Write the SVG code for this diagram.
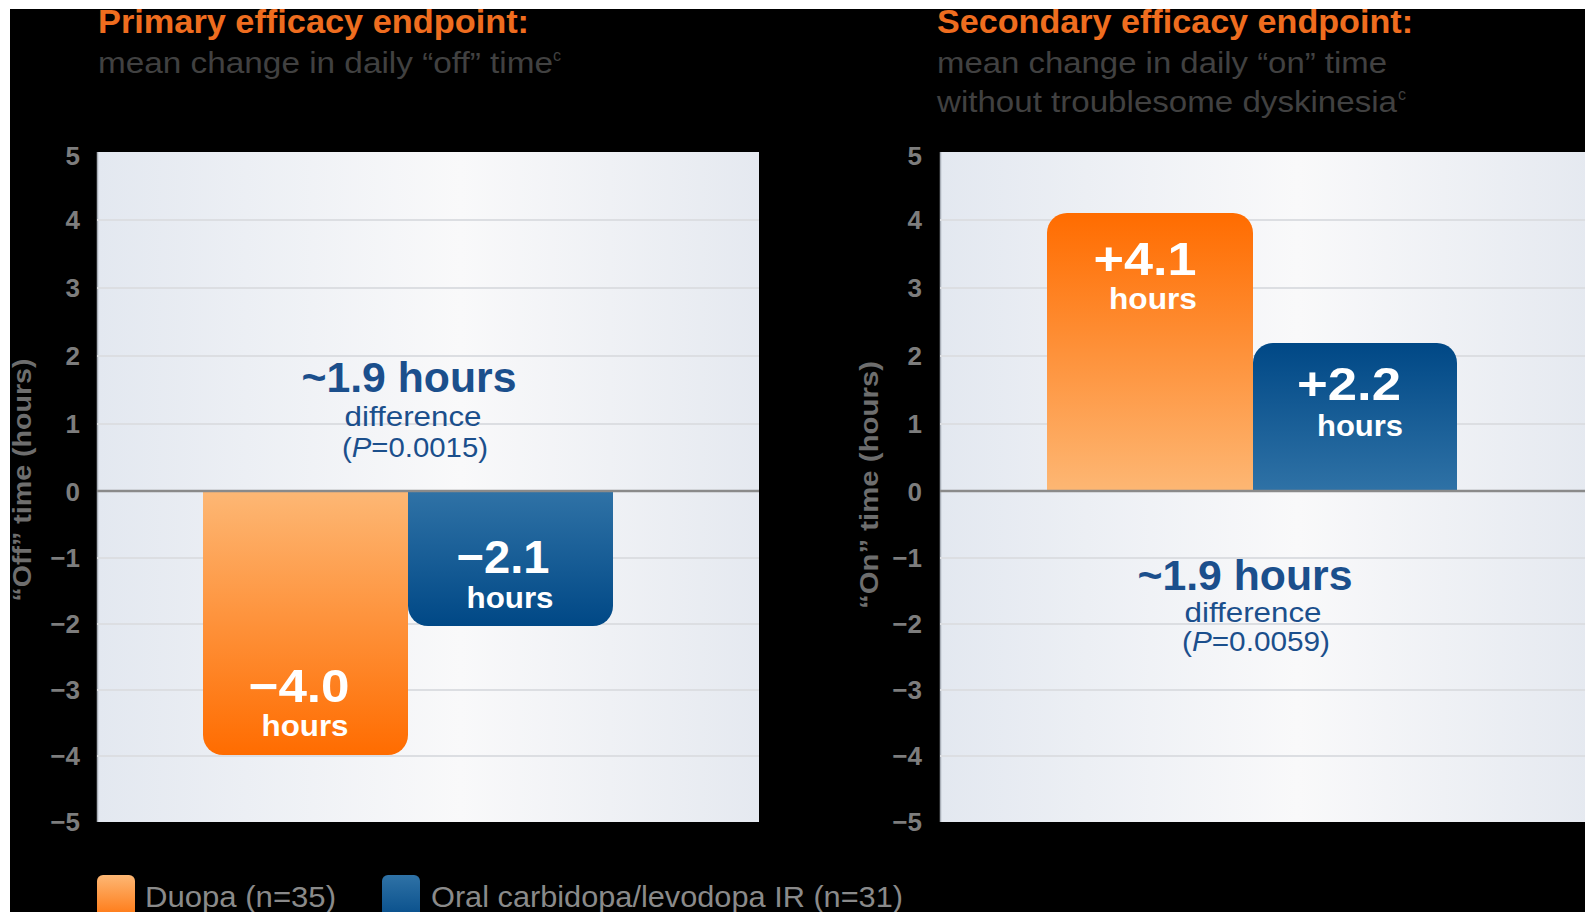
<svg xmlns="http://www.w3.org/2000/svg" width="1585" height="912" viewBox="0 0 1585 912">
<defs>
<linearGradient id="plotBg" x1="0" y1="0" x2="1" y2="0">
<stop offset="0" stop-color="#e3e8f0"/>
<stop offset="0.55" stop-color="#f9f9fa"/>
<stop offset="1" stop-color="#e5e9f0"/>
</linearGradient>
<linearGradient id="orangeDown" x1="0" y1="0" x2="0" y2="1">
<stop offset="0" stop-color="#fdb774"/>
<stop offset="1" stop-color="#ff6c00"/>
</linearGradient>
<linearGradient id="orangeUp" x1="0" y1="1" x2="0" y2="0">
<stop offset="0" stop-color="#fdb774"/>
<stop offset="1" stop-color="#ff6c00"/>
</linearGradient>
<linearGradient id="blueDown" x1="0" y1="0" x2="0" y2="1">
<stop offset="0" stop-color="#2f72a6"/>
<stop offset="1" stop-color="#004886"/>
</linearGradient>
<linearGradient id="blueUp" x1="0" y1="1" x2="0" y2="0">
<stop offset="0" stop-color="#2f72a6"/>
<stop offset="1" stop-color="#004886"/>
</linearGradient>
</defs>
<style>
text{font-family:"Liberation Sans",Arial,sans-serif;}
.title{font-size:33px;font-weight:bold;fill:#ef6d1f;}
.sub{font-size:30px;fill:#414141;}
.sup{font-size:16px;fill:#414141;}
.tick{font-size:26px;font-weight:bold;fill:#7d7d7d;text-anchor:end;}
.ytitle{font-size:26px;font-weight:bold;fill:#6e6e6e;text-anchor:middle;}
.grid{stroke:#dcdee2;stroke-width:2;}
.zero{stroke:#8a8a8a;stroke-width:2.5;}
.big{font-size:46px;font-weight:bold;fill:#ffffff;text-anchor:middle;}
.hrs{font-size:30px;font-weight:bold;fill:#ffffff;text-anchor:middle;}
.diff{font-size:43px;font-weight:bold;fill:#1b4f8c;text-anchor:middle;}
.diffs{font-size:28px;fill:#1b4f8c;text-anchor:middle;}
.leg{font-size:29px;fill:#8a8a8a;}
</style>
<rect x="0" y="0" width="1585" height="912" fill="#ffffff"/>
<rect x="10" y="9" width="1575" height="903" fill="#000000"/>

<g id="header-primary">
<text class="title" x="98" y="33" textLength="431" lengthAdjust="spacingAndGlyphs">Primary efficacy endpoint:</text>
<text class="sub" x="98" y="73" textLength="455" lengthAdjust="spacingAndGlyphs">mean change in daily “off” time</text>
<text class="sup" x="553" y="61">c</text>
</g>
<g id="header-secondary">
<text class="title" x="937" y="33" textLength="476" lengthAdjust="spacingAndGlyphs">Secondary efficacy endpoint:</text>
<text class="sub" x="937" y="73" textLength="450" lengthAdjust="spacingAndGlyphs">mean change in daily “on” time</text>
<text class="sub" x="937" y="112" textLength="460" lengthAdjust="spacingAndGlyphs">without troublesome dyskinesia</text>
<text class="sup" x="1398" y="100">c</text>
</g>

<g id="chart-primary">
<rect x="97" y="152" width="662" height="670" fill="url(#plotBg)"/>
<line x1="97.5" y1="152" x2="97.5" y2="822" stroke="#a9afb8" stroke-width="1.5"/>
<g class="grid">
<line x1="97" y1="220" x2="759" y2="220"/>
<line x1="97" y1="288" x2="759" y2="288"/>
<line x1="97" y1="356" x2="759" y2="356"/>
<line x1="97" y1="424" x2="759" y2="424"/>
<line x1="97" y1="558" x2="759" y2="558"/>
<line x1="97" y1="624" x2="759" y2="624"/>
<line x1="97" y1="690" x2="759" y2="690"/>
<line x1="97" y1="756" x2="759" y2="756"/>
</g>
<g id="ticks-primary">
<text class="tick" x="80" y="165">5</text>
<text class="tick" x="80" y="229">4</text>
<text class="tick" x="80" y="297">3</text>
<text class="tick" x="80" y="365">2</text>
<text class="tick" x="80" y="433">1</text>
<text class="tick" x="80" y="501">0</text>
<text class="tick" x="80" y="567">−1</text>
<text class="tick" x="80" y="633">−2</text>
<text class="tick" x="80" y="699">−3</text>
<text class="tick" x="80" y="765">−4</text>
<text class="tick" x="80" y="831">−5</text>
</g>
<text class="ytitle" transform="translate(31,480) rotate(-90)" textLength="243" lengthAdjust="spacingAndGlyphs">“Off” time (hours)</text>
<g id="bar-duopa-off">
<path d="M203,492 H408 V735 A20,20 0 0 1 388,755 H223 A20,20 0 0 1 203,735 Z" fill="url(#orangeDown)"/>
<text class="big" x="299" y="702" textLength="101" lengthAdjust="spacingAndGlyphs">−4.0</text>
<text class="hrs" x="305" y="736" textLength="87" lengthAdjust="spacingAndGlyphs">hours</text>
</g>
<g id="bar-oral-off">
<path d="M408,492 H613 V606 A20,20 0 0 1 593,626 H428 A20,20 0 0 1 408,606 Z" fill="url(#blueDown)"/>
<text class="big" x="503" y="573" textLength="93" lengthAdjust="spacingAndGlyphs">−2.1</text>
<text class="hrs" x="510" y="608" textLength="87" lengthAdjust="spacingAndGlyphs">hours</text>
</g>
<line class="zero" x1="97" y1="491" x2="759" y2="491"/>
<g id="diff-primary">
<text class="diff" x="409" y="392" textLength="215" lengthAdjust="spacingAndGlyphs">~1.9 hours</text>
<text class="diffs" x="413" y="426" textLength="137" lengthAdjust="spacingAndGlyphs">difference</text>
<text class="diffs" x="415" y="457" font-size="26" textLength="146" lengthAdjust="spacingAndGlyphs">(<tspan font-style="italic">P</tspan>=0.0015)</text>
</g>
</g>

<g id="chart-secondary">
<rect x="940" y="152" width="650" height="670" fill="url(#plotBg)"/>
<line x1="940.5" y1="152" x2="940.5" y2="822" stroke="#a9afb8" stroke-width="1.5"/>
<g class="grid">
<line x1="940" y1="220" x2="1585" y2="220"/>
<line x1="940" y1="288" x2="1585" y2="288"/>
<line x1="940" y1="356" x2="1585" y2="356"/>
<line x1="940" y1="424" x2="1585" y2="424"/>
<line x1="940" y1="558" x2="1585" y2="558"/>
<line x1="940" y1="624" x2="1585" y2="624"/>
<line x1="940" y1="690" x2="1585" y2="690"/>
<line x1="940" y1="756" x2="1585" y2="756"/>
</g>
<g id="ticks-secondary">
<text class="tick" x="922" y="165">5</text>
<text class="tick" x="922" y="229">4</text>
<text class="tick" x="922" y="297">3</text>
<text class="tick" x="922" y="365">2</text>
<text class="tick" x="922" y="433">1</text>
<text class="tick" x="922" y="501">0</text>
<text class="tick" x="922" y="567">−1</text>
<text class="tick" x="922" y="633">−2</text>
<text class="tick" x="922" y="699">−3</text>
<text class="tick" x="922" y="765">−4</text>
<text class="tick" x="922" y="831">−5</text>
</g>
<text class="ytitle" transform="translate(878,485) rotate(-90)" textLength="248" lengthAdjust="spacingAndGlyphs">“On” time (hours)</text>
<g id="bar-duopa-on">
<path d="M1047,492 V233 A20,20 0 0 1 1067,213 H1233 A20,20 0 0 1 1253,233 V492 Z" fill="url(#orangeUp)"/>
<text class="big" x="1145" y="275" textLength="103" lengthAdjust="spacingAndGlyphs">+4.1</text>
<text class="hrs" x="1153" y="309" textLength="88" lengthAdjust="spacingAndGlyphs">hours</text>
</g>
<g id="bar-oral-on">
<path d="M1253,492 V363 A20,20 0 0 1 1273,343 H1437 A20,20 0 0 1 1457,363 V492 Z" fill="url(#blueUp)"/>
<text class="big" x="1349" y="400" textLength="104" lengthAdjust="spacingAndGlyphs">+2.2</text>
<text class="hrs" x="1360" y="436" textLength="86" lengthAdjust="spacingAndGlyphs">hours</text>
</g>
<line class="zero" x1="940" y1="491" x2="1585" y2="491"/>
<g id="diff-secondary">
<text class="diff" x="1245" y="590" textLength="215" lengthAdjust="spacingAndGlyphs">~1.9 hours</text>
<text class="diffs" x="1253" y="622" textLength="137" lengthAdjust="spacingAndGlyphs">difference</text>
<text class="diffs" x="1256" y="651" font-size="26" textLength="148" lengthAdjust="spacingAndGlyphs">(<tspan font-style="italic">P</tspan>=0.0059)</text>
</g>
</g>

<g id="legend">
<g id="legend-duopa">
<rect x="97" y="875" width="38" height="50" rx="6" fill="url(#orangeDown)"/>
<text class="leg" x="145" y="907" textLength="191" lengthAdjust="spacingAndGlyphs">Duopa (n=35)</text>
</g>
<g id="legend-oral">
<rect x="382" y="875" width="38" height="50" rx="6" fill="url(#blueDown)"/>
<text class="leg" x="431" y="907" textLength="472" lengthAdjust="spacingAndGlyphs">Oral carbidopa/levodopa IR (n=31)</text>
</g>
</g>
</svg>
